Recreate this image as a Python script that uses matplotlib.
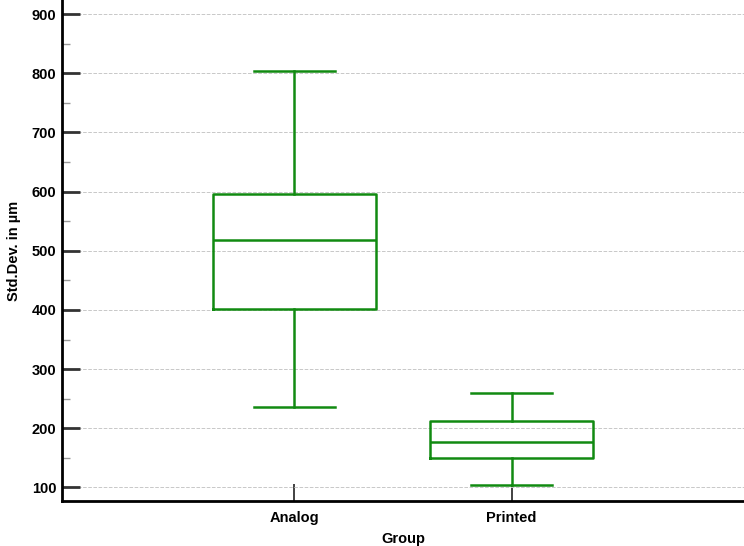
import matplotlib.pyplot as plt
from matplotlib.ticker import MultipleLocator

plt.rcParams['font.family'] = ['Liberation Sans', 'DejaVu Sans']

# Box plot statistics
groups = ['Analog', 'Printed']
whislo = [236, 104]
q1 = [402, 149]
med = [518, 176]
q3 = [596, 212]
whishi = [804, 260]

stats = []
for i, g in enumerate(groups):
    stats.append({'label': g, 'whislo': whislo[i], 'q1': q1[i], 'med': med[i],
                  'q3': q3[i], 'whishi': whishi[i], 'fliers': []})

green = '#118a11'
fig = plt.figure(figsize=(7.44, 5.46), dpi=100)
ax = fig.add_axes([62 / 744, 1 - 501 / 546, 1 - 62 / 744, 501 / 546])

lp = dict(color=green, linewidth=1.8)
ax.bxp(stats, positions=[1, 2], widths=0.75, showfliers=False,
       boxprops=lp, medianprops=lp, whiskerprops=lp, capprops=lp,
       capwidths=0.37)

ax.set_xlim(-0.07, 3.07)
ax.set_ylim(77, 924)
ax.yaxis.set_major_locator(MultipleLocator(100))
ax.yaxis.set_minor_locator(MultipleLocator(50))
ax.grid(axis='y', which='major', linestyle='--', color='#c8c8c8', linewidth=0.7)
ax.set_axisbelow(True)

for s in ['top', 'right']:
    ax.spines[s].set_visible(False)
for s in ['left', 'bottom']:
    ax.spines[s].set_linewidth(2)

ax.tick_params(axis='y', which='major', direction='in', length=13, width=2,
               color='#333333', labelsize=10.5, pad=4)
ax.tick_params(axis='y', which='minor', direction='in', length=6, width=1,
               color='#999999')
ax.tick_params(axis='x', which='major', direction='in', length=12, width=1.3,
               color='#333333', labelsize=10.5, pad=7)
for lab in ax.get_xticklabels() + ax.get_yticklabels():
    lab.set_fontweight('bold')

ax.set_xlabel('Group', fontsize=10.5, fontweight='bold', labelpad=5)
ax.set_ylabel('Std.Dev. in µm', fontsize=10.5, fontweight='bold', labelpad=8)

fig.savefig('out.png', dpi=100)
